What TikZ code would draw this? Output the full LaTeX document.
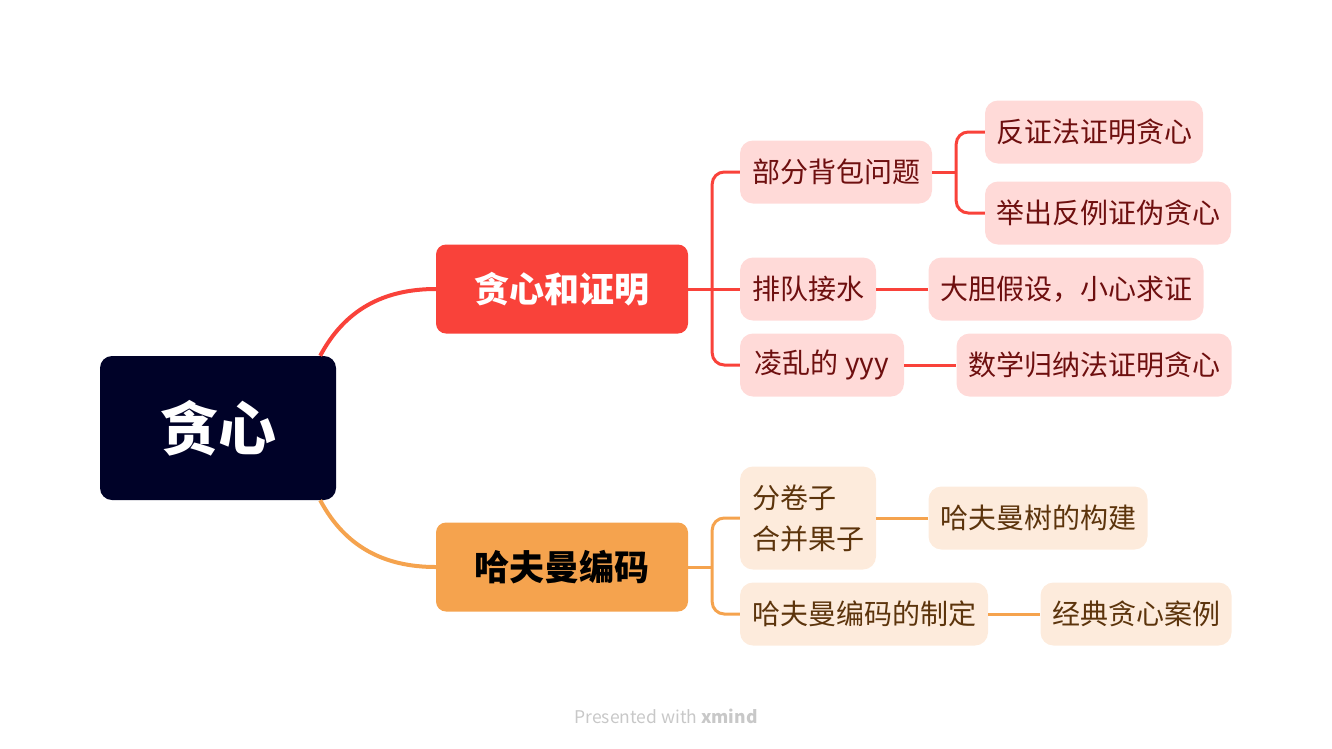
\documentclass[tikz,border=0pt]{standalone}
\usepackage{fontspec}
\setmainfont{Noto Sans CJK SC}
\usetikzlibrary{calc}
\definecolor{rootnavy}{RGB}{0,2,40}
\definecolor{redmain}{RGB}{249,66,58}
\definecolor{orangemain}{RGB}{245,163,78}
\definecolor{pinkfill}{RGB}{255,218,216}
\definecolor{redtext}{RGB}{110,15,15}
\definecolor{peachfill}{RGB}{253,235,220}
\definecolor{browntext}{RGB}{92,52,12}
\definecolor{markgray}{RGB}{200,200,200}
\begin{document}
\begin{tikzpicture}[x=1pt, y=-1pt,
    rootbox/.style={fill=rootnavy, text=white, rounded corners=12pt, minimum width=236pt, minimum height=144pt, font=\fontsize{58}{64}\selectfont\bfseries},
    topicbox/.style={rounded corners=10pt, minimum width=252pt, minimum height=89pt, font=\fontsize{35}{40}\selectfont\bfseries},
    redleaf/.style={fill=pinkfill, text=redtext, rounded corners=13pt, minimum height=63pt, font=\fontsize{28}{41}\selectfont},
    orangeleaf/.style={fill=peachfill, text=browntext, rounded corners=13pt, minimum height=63pt, font=\fontsize{28}{41}\selectfont},
    redline/.style={draw=redmain, line width=3pt},
    orangeline/.style={draw=orangemain, line width=3pt}]
\useasboundingbox (0,0) rectangle (1332,748);
% main topic and branches
\node[rootbox] (root) at (218,428) {贪心};
\node[topicbox, fill=redmain, text=white] (proof) at (562,289) {贪心和证明};
\node[topicbox, fill=orangemain, text=black] (huff) at (562,567) {哈夫曼编码};
% red subtopics
\node[redleaf, minimum width=192pt] (knap) at (836,172) {部分背包问题};
\node[redleaf, minimum width=136pt] (queue) at (808,289) {排队接水};
\node[redleaf, minimum width=164pt] (yyy) at (822,365) {凌乱的 yyy};
\node[redleaf, minimum width=218pt] (contra) at (1094,132) {反证法证明贪心};
\node[redleaf, minimum width=246pt] (counter) at (1108,213) {举出反例证伪贪心};
\node[redleaf, minimum width=275pt] (bold) at (1066,289) {大胆假设，小心求证};
\node[redleaf, minimum width=275pt] (induct) at (1094,365) {数学归纳法证明贪心};
% orange subtopics
\node[orangeleaf, minimum width=136pt, minimum height=103pt, align=left] (fruit) at (808,518) {分卷子\\合并果子};
\node[orangeleaf, minimum width=248pt] (code) at (864,614) {哈夫曼编码的制定};
\node[orangeleaf, minimum width=219pt] (tree) at (1038,518) {哈夫曼树的构建};
\node[orangeleaf, minimum width=191pt] (classic) at (1136,614) {经典贪心案例};
% connectors
\draw[redline, line width=4pt] ($(root.north east)+(-16,0)$) to[out=62, in=180] (proof.west);
\draw[orangeline, line width=4pt] ($(root.south east)+(-16,0)$) to[out=-62, in=180] (huff.west);
\coordinate (kp) at ($(proof.east)+(24,0)$);
\coordinate (kk) at ($(knap.east)+(24,0)$);
\coordinate (kh) at ($(huff.east)+(24,0)$);
\draw[redline] (proof.east) -- (kp);
\draw[redline, rounded corners=12pt] (knap.west) -| (kp) |- (yyy.west);
\draw[redline] (kp) -- (queue.west);
\draw[redline] (knap.east) -- (kk);
\draw[redline, rounded corners=12pt] (contra.west) -| (kk) |- (counter.west);
\draw[redline] (queue.east) -- (bold.west);
\draw[redline] (yyy.east) -- (induct.west);
\draw[orangeline] (huff.east) -- (kh);
\draw[orangeline, rounded corners=12pt] (fruit.west) -| (kh) |- (code.west);
\draw[orangeline] (fruit.east) -- (tree.west);
\draw[orangeline] (code.east) -- (classic.west);
% watermark
\node[text=markgray, font=\fontsize{17.5}{20}\selectfont] (mark) at (666,716) {Presented with \textbf{xmind}};
\end{tikzpicture}
\end{document}
